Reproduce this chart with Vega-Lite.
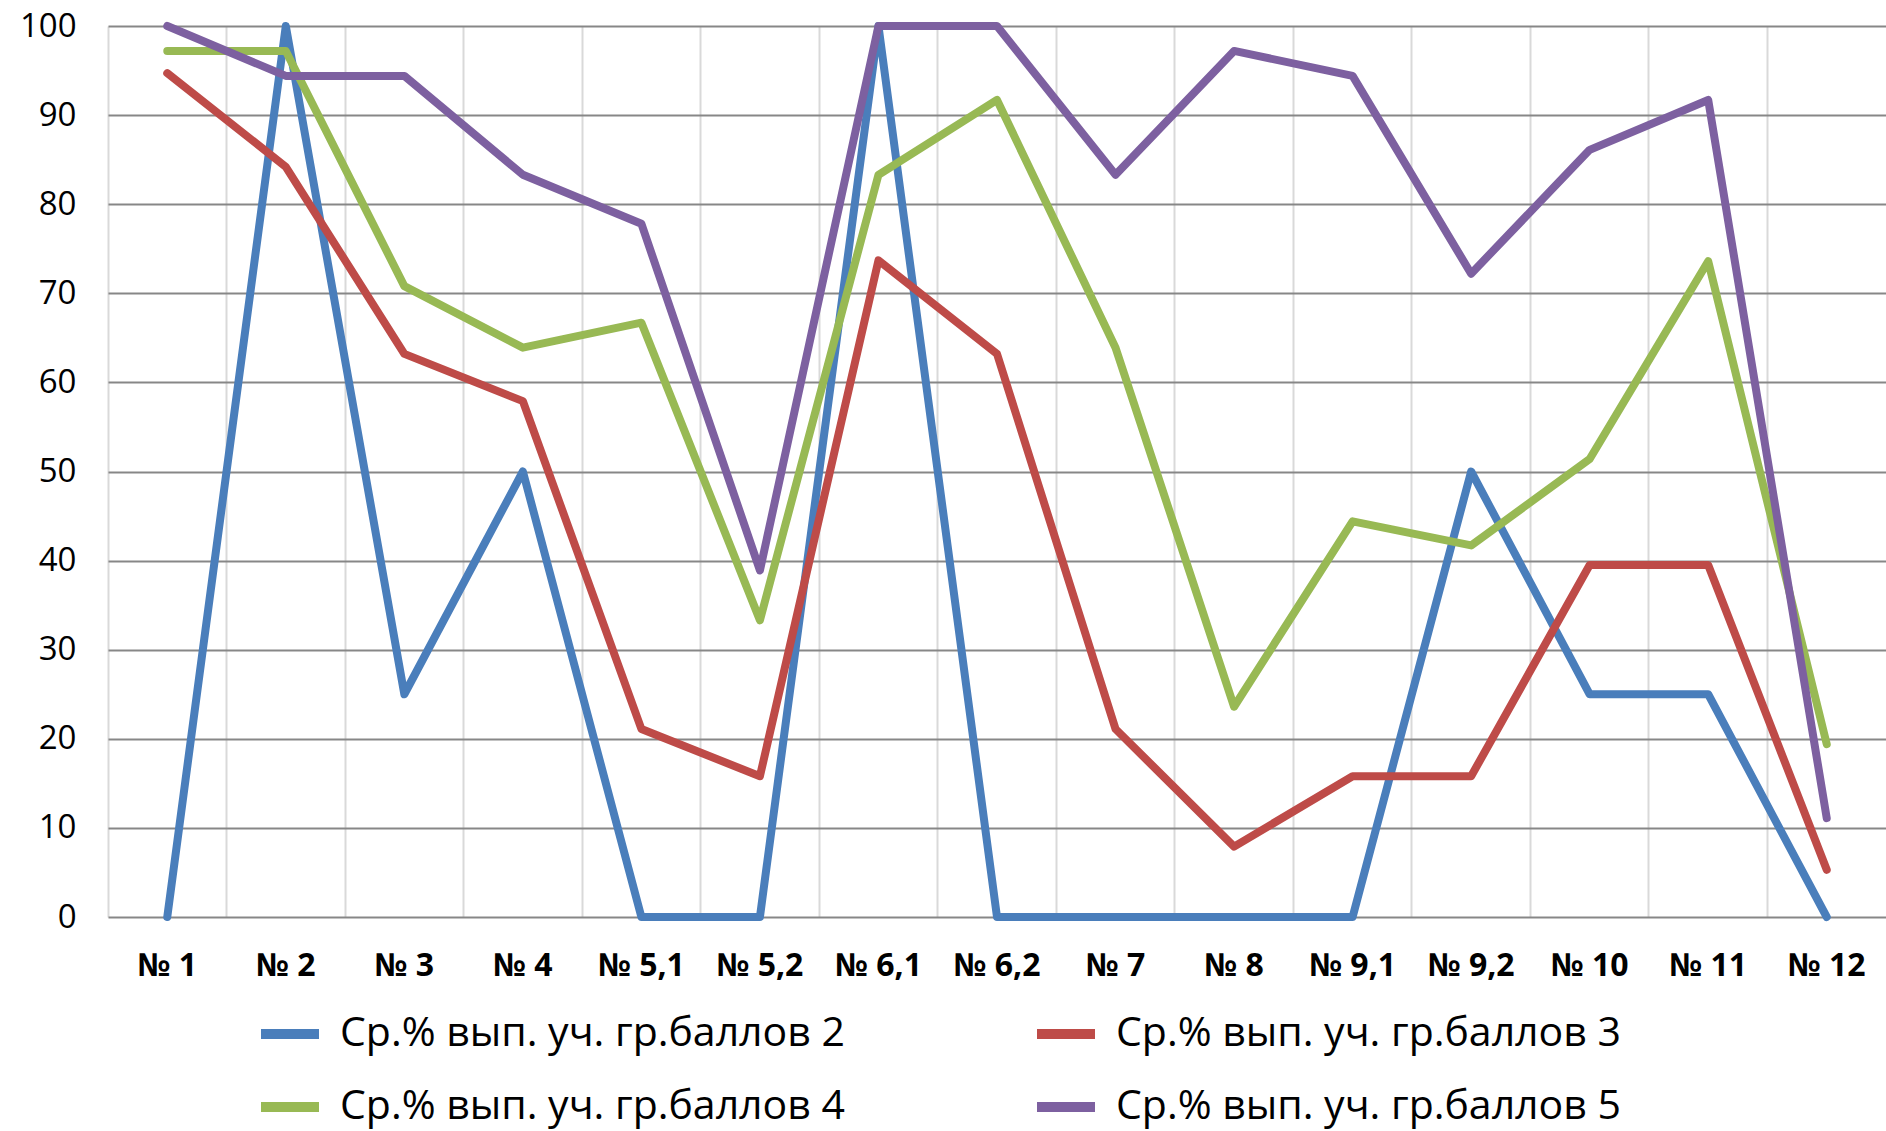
{
  "$schema": "https://vega.github.io/schema/vega-lite/v6.json",
  "autosize": {"type": "none"},
  "padding": {"left": 108, "top": 26, "right": 0, "bottom": 214},
  "width": 1778,
  "height": 891,
  "config": {"view": {"stroke": null}, "font": "Open Sans"},
  "data": {"values": [
    {"q": "№ 1", "s": "Ср.% вып. уч. гр.баллов 2", "v": 0},
    {"q": "№ 2", "s": "Ср.% вып. уч. гр.баллов 2", "v": 100},
    {"q": "№ 3", "s": "Ср.% вып. уч. гр.баллов 2", "v": 25},
    {"q": "№ 4", "s": "Ср.% вып. уч. гр.баллов 2", "v": 50},
    {"q": "№ 5,1", "s": "Ср.% вып. уч. гр.баллов 2", "v": 0},
    {"q": "№ 5,2", "s": "Ср.% вып. уч. гр.баллов 2", "v": 0},
    {"q": "№ 6,1", "s": "Ср.% вып. уч. гр.баллов 2", "v": 100},
    {"q": "№ 6,2", "s": "Ср.% вып. уч. гр.баллов 2", "v": 0},
    {"q": "№ 7", "s": "Ср.% вып. уч. гр.баллов 2", "v": 0},
    {"q": "№ 8", "s": "Ср.% вып. уч. гр.баллов 2", "v": 0},
    {"q": "№ 9,1", "s": "Ср.% вып. уч. гр.баллов 2", "v": 0},
    {"q": "№ 9,2", "s": "Ср.% вып. уч. гр.баллов 2", "v": 50},
    {"q": "№ 10", "s": "Ср.% вып. уч. гр.баллов 2", "v": 25},
    {"q": "№ 11", "s": "Ср.% вып. уч. гр.баллов 2", "v": 25},
    {"q": "№ 12", "s": "Ср.% вып. уч. гр.баллов 2", "v": 0},
    {"q": "№ 1", "s": "Ср.% вып. уч. гр.баллов 3", "v": 94.7},
    {"q": "№ 2", "s": "Ср.% вып. уч. гр.баллов 3", "v": 84.2},
    {"q": "№ 3", "s": "Ср.% вып. уч. гр.баллов 3", "v": 63.2},
    {"q": "№ 4", "s": "Ср.% вып. уч. гр.баллов 3", "v": 57.9},
    {"q": "№ 5,1", "s": "Ср.% вып. уч. гр.баллов 3", "v": 21.1},
    {"q": "№ 5,2", "s": "Ср.% вып. уч. гр.баллов 3", "v": 15.8},
    {"q": "№ 6,1", "s": "Ср.% вып. уч. гр.баллов 3", "v": 73.7},
    {"q": "№ 6,2", "s": "Ср.% вып. уч. гр.баллов 3", "v": 63.2},
    {"q": "№ 7", "s": "Ср.% вып. уч. гр.баллов 3", "v": 21.1},
    {"q": "№ 8", "s": "Ср.% вып. уч. гр.баллов 3", "v": 7.9},
    {"q": "№ 9,1", "s": "Ср.% вып. уч. гр.баллов 3", "v": 15.8},
    {"q": "№ 9,2", "s": "Ср.% вып. уч. гр.баллов 3", "v": 15.8},
    {"q": "№ 10", "s": "Ср.% вып. уч. гр.баллов 3", "v": 39.5},
    {"q": "№ 11", "s": "Ср.% вып. уч. гр.баллов 3", "v": 39.5},
    {"q": "№ 12", "s": "Ср.% вып. уч. гр.баллов 3", "v": 5.3},
    {"q": "№ 1", "s": "Ср.% вып. уч. гр.баллов 4", "v": 97.2},
    {"q": "№ 2", "s": "Ср.% вып. уч. гр.баллов 4", "v": 97.2},
    {"q": "№ 3", "s": "Ср.% вып. уч. гр.баллов 4", "v": 70.8},
    {"q": "№ 4", "s": "Ср.% вып. уч. гр.баллов 4", "v": 63.9},
    {"q": "№ 5,1", "s": "Ср.% вып. уч. гр.баллов 4", "v": 66.7},
    {"q": "№ 5,2", "s": "Ср.% вып. уч. гр.баллов 4", "v": 33.3},
    {"q": "№ 6,1", "s": "Ср.% вып. уч. гр.баллов 4", "v": 83.3},
    {"q": "№ 6,2", "s": "Ср.% вып. уч. гр.баллов 4", "v": 91.7},
    {"q": "№ 7", "s": "Ср.% вып. уч. гр.баллов 4", "v": 63.9},
    {"q": "№ 8", "s": "Ср.% вып. уч. гр.баллов 4", "v": 23.6},
    {"q": "№ 9,1", "s": "Ср.% вып. уч. гр.баллов 4", "v": 44.4},
    {"q": "№ 9,2", "s": "Ср.% вып. уч. гр.баллов 4", "v": 41.7},
    {"q": "№ 10", "s": "Ср.% вып. уч. гр.баллов 4", "v": 51.4},
    {"q": "№ 11", "s": "Ср.% вып. уч. гр.баллов 4", "v": 73.6},
    {"q": "№ 12", "s": "Ср.% вып. уч. гр.баллов 4", "v": 19.4},
    {"q": "№ 1", "s": "Ср.% вып. уч. гр.баллов 5", "v": 100},
    {"q": "№ 2", "s": "Ср.% вып. уч. гр.баллов 5", "v": 94.4},
    {"q": "№ 3", "s": "Ср.% вып. уч. гр.баллов 5", "v": 94.4},
    {"q": "№ 4", "s": "Ср.% вып. уч. гр.баллов 5", "v": 83.3},
    {"q": "№ 5,1", "s": "Ср.% вып. уч. гр.баллов 5", "v": 77.8},
    {"q": "№ 5,2", "s": "Ср.% вып. уч. гр.баллов 5", "v": 38.9},
    {"q": "№ 6,1", "s": "Ср.% вып. уч. гр.баллов 5", "v": 100},
    {"q": "№ 6,2", "s": "Ср.% вып. уч. гр.баллов 5", "v": 100},
    {"q": "№ 7", "s": "Ср.% вып. уч. гр.баллов 5", "v": 83.3},
    {"q": "№ 8", "s": "Ср.% вып. уч. гр.баллов 5", "v": 97.2},
    {"q": "№ 9,1", "s": "Ср.% вып. уч. гр.баллов 5", "v": 94.4},
    {"q": "№ 9,2", "s": "Ср.% вып. уч. гр.баллов 5", "v": 72.2},
    {"q": "№ 10", "s": "Ср.% вып. уч. гр.баллов 5", "v": 86.1},
    {"q": "№ 11", "s": "Ср.% вып. уч. гр.баллов 5", "v": 91.7},
    {"q": "№ 12", "s": "Ср.% вып. уч. гр.баллов 5", "v": 11.1}
  ]},
  "mark": {"type": "line", "strokeWidth": 8, "strokeCap": "round", "strokeJoin": "round"},
  "encoding": {
    "x": {
      "field": "q", "type": "nominal", "sort": null, "bandPosition": 0.5,
      "scale": {"type": "band", "paddingInner": 0, "paddingOuter": 0},
      "axis": {
        "title": null, "bandPosition": 0, "labelAngle": 0,
        "ticks": false, "domain": false,
        "grid": true, "gridColor": "#D9D9D9", "gridWidth": 2,
        "labelFont": "Open Sans", "labelFontWeight": "bold", "labelFontSize": 32,
        "labelColor": "#000000", "labelBaseline": "middle", "labelPadding": 48,
        "labelAlign": "center"
      }
    },
    "y": {
      "field": "v", "type": "quantitative",
      "scale": {"domain": [0, 100], "nice": false},
      "axis": {
        "title": null, "values": [0,10,20,30,40,50,60,70,80,90,100],
        "ticks": false, "domain": false,
        "grid": true, "gridColor": "#878787", "gridWidth": 2,
        "labelFont": "Open Sans", "labelFontSize": 33, "labelColor": "#000000",
        "labelPadding": 32
      }
    },
    "color": {
      "field": "s", "type": "nominal",
      "scale": {
        "domain": ["Ср.% вып. уч. гр.баллов 2", "Ср.% вып. уч. гр.баллов 3", "Ср.% вып. уч. гр.баллов 4", "Ср.% вып. уч. гр.баллов 5"],
        "range": ["#4A7EBB", "#BE4B48", "#98B954", "#7D60A0"]
      },
      "legend": {
        "title": null, "orient": "none", "legendX": 148, "legendY": 974,
        "direction": "horizontal", "columns": 2, "columnPadding": 172, "rowPadding": 19,
        "symbolType": "stroke", "symbolSize": 3364, "symbolStrokeWidth": 10,
        "labelFont": "Open Sans", "labelFontSize": 41, "labelColor": "#000000",
        "labelOffset": 16, "labelLimit": 900
      }
    }
  }
}
